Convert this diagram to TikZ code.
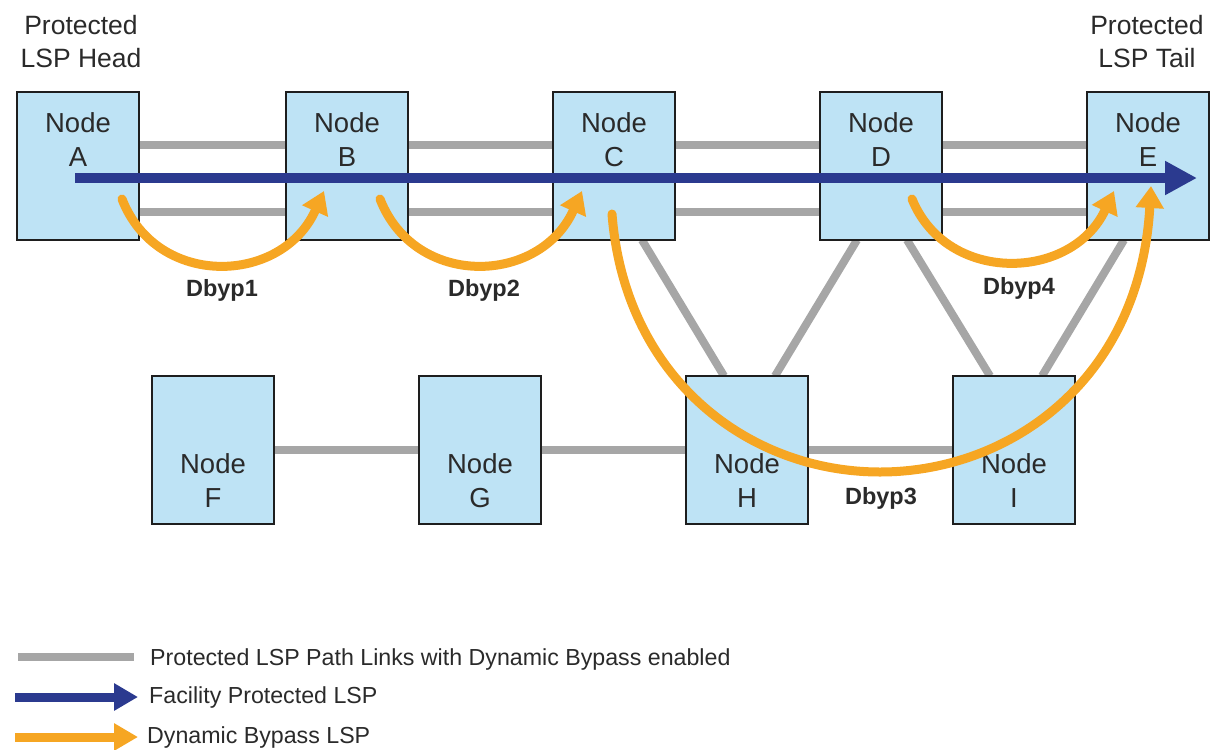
\documentclass[tikz,border=0pt]{standalone}
\usepackage{fontspec}
\setmainfont{Liberation Sans}
\usetikzlibrary{arrows.meta,calc}
\definecolor{linkgray}{HTML}{A6A6A6}
\definecolor{lspblue}{HTML}{2B3A8F}
\definecolor{bypassorange}{HTML}{F6A623}
\definecolor{boxblue}{HTML}{BEE3F5}
\definecolor{boxedge}{HTML}{1E1E1E}
\definecolor{txtgray}{HTML}{2A2A2A}
\begin{document}
\begin{tikzpicture}[x=1pt,y=-1pt,
  nodebox/.style={draw=boxedge,line width=2.4pt,fill=boxblue,minimum width=122pt,minimum height=148pt,inner sep=0pt},
  nodetext/.style={align=center,text=txtgray,font=\fontsize{27.5}{34}\selectfont,inner sep=0pt},
  toptext/.style={align=center,text=txtgray,font=\fontsize{26.5}{33}\selectfont,inner sep=0pt},
  link/.style={draw=linkgray,line width=8pt},
  facility/.style={draw=lspblue,line width=10pt,-{Triangle[length=32pt,width=32pt]}},
  bypass/.style={draw=bypassorange,line width=9pt,line cap=round,-{Triangle[length=22pt,width=27pt]}},
  bylabel/.style={font=\fontsize{23.5}{26}\selectfont\bfseries,text=txtgray,inner sep=0pt},
  legendtext/.style={anchor=west,font=\fontsize{23.2}{25}\selectfont,text=txtgray,inner sep=0pt}]
\useasboundingbox (0,0) rectangle (1211,750);
\coordinate (pA) at (78,166);
\coordinate (pB) at (347,166);
\coordinate (pC) at (614,166);
\coordinate (pD) at (881,166);
\coordinate (pE) at (1148,166);
\coordinate (pF) at (213,450);
\coordinate (pG) at (480,450);
\coordinate (pH) at (747,450);
\coordinate (pI) at (1014,450);
% links behind boxes
\draw[link] ($(pA)+(0,-21)$) coordinate (a1) -- ($(pE)+(0,-21)$) coordinate (e1);
\draw[link] ($(pA)+(0,46)$) coordinate (a2) -- ($(pE)+(0,46)$) coordinate (e2);
\draw[link] (pF) -- (pI);
\draw[link] (642,240) coordinate (c3) -- (724,376) coordinate (h3);
\draw[link] (857,240) coordinate (d3) -- (775,376) coordinate (h4);
\draw[link] (907,240) coordinate (d4) -- (990,376) coordinate (i3);
\draw[link] (1124,240) coordinate (e4) -- (1042,376) coordinate (i4);
% boxes
\foreach \n in {A,B,C,D,E,F,G,H,I}{\node[nodebox] (box\n) at (p\n) {};}
\foreach \n in {A,B,C,D,E}{\node[nodetext] (t\n) at ($(box\n.center)+(0,-26)$) {Node\\\n};}
\foreach \n in {F,G,H,I}{\node[nodetext] (t\n) at ($(box\n.center)+(0,31)$) {Node\\\n};}
% head / tail labels
\node[toptext] (head) at (81,42) {Protected\\LSP Head};
\node[toptext] (tail) at (1147,42) {Protected\\LSP Tail};
% facility LSP
\coordinate (fstart) at (75,178);
\coordinate (fend) at (1197,178);
\draw[facility] (fstart) -- (fend);
% bypass arcs
\coordinate (b1s) at (122,199); \coordinate (b1e) at (324,191);
\coordinate (b2s) at (380,199); \coordinate (b2e) at (582,191);
\coordinate (b4s) at (912,199); \coordinate (b4e) at (1114,191);
\coordinate (b3s) at (612,214); \coordinate (b3m) at (880,472); \coordinate (b3e) at (1151,186);
\draw[bypass] (b1s) .. controls ($(b1s)+(35,90)$) and ($(b1e)+(-42,94)$) .. (b1e);
\draw[bypass] (b2s) .. controls ($(b2s)+(35,90)$) and ($(b2e)+(-42,94)$) .. (b2e);
\draw[bypass] (b4s) .. controls ($(b4s)+(35,86)$) and ($(b4e)+(-42,90)$) .. (b4e);
\draw[bypass] (b3s) .. controls (625,380) and (750,472) .. (b3m) .. controls (1010,472) and (1140,380) .. (b3e);
\node[bylabel] (l1) at (222,290) {Dbyp1};
\node[bylabel] (l2) at (484,290) {Dbyp2};
\node[bylabel] (l4) at (1019,288) {Dbyp4};
\node[bylabel] (l3) at (881,498) {Dbyp3};
% legend
\coordinate (g1) at (18,657); \coordinate (g2) at (134,657);
\coordinate (lb1) at (15,697); \coordinate (lb2) at (138,697);
\coordinate (lo1) at (15,737); \coordinate (lo2) at (138,737);
\draw[link] (g1) -- (g2);
\draw[draw=lspblue,line width=9pt,-{Triangle[length=24pt,width=26pt]}] (lb1) -- (lb2);
\draw[draw=bypassorange,line width=9pt,-{Triangle[length=24pt,width=26pt]}] (lo1) -- (lo2);
\node[legendtext] (lg1) at (150,659) {Protected LSP Path Links with Dynamic Bypass enabled};
\node[legendtext] (lg2) at (149,697) {Facility Protected LSP};
\node[legendtext] (lg3) at (147,737) {Dynamic Bypass LSP};
\end{tikzpicture}
\end{document}
